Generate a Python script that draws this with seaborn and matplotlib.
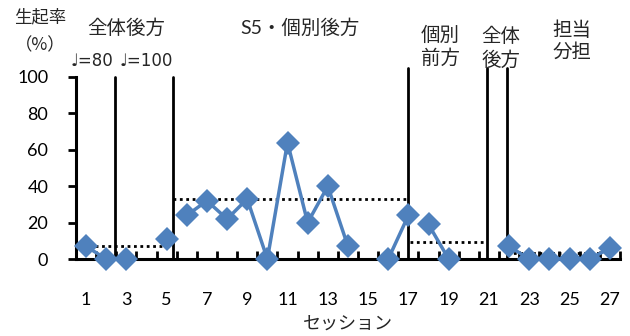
import numpy as np
import pandas as pd
import matplotlib
matplotlib.use("Agg")
import matplotlib.pyplot as plt
import seaborn as sns

sessions = list(range(1, 28))
rate = [7, 0, 0, np.nan, 11, 24, 32, 22, 33, 0, 64, 20, 40, 7, np.nan,
        0, 24, 19, 0, np.nan, np.nan, 7, 0, 0, 0, 0, 6]
segment = [1, 1, 2, 0, 3, 4, 4, 4, 4, 4, 4, 4, 4, 4, 0,
           5, 5, 6, 6, 0, 0, 7, 7, 7, 7, 7, 7]

phase_lines = [2.45, 5.3, 17.0, 20.9, 21.9]
phase_tops = [100, 100, 105, 105, 105]
mean_x0 = [0.5, 5.3, 17.1, 21.9]
mean_x1 = [5.1, 16.9, 20.8, 26.5]
mean_y = [7, 33, 9.5, 3.5]

phase_labels = ["全体後方", "S5・個別後方", "個別\n前方", "全体\n後方", "担当\n分担"]
phase_label_x = [3.0, 11.6, 18.6, 21.6, 25.1]
phase_label_y = [127, 127, 117, 116, 120]
tempo_labels = ["♩=80", "♩=100"]
tempo_x = [1.3, 4.0]
y_ticks = [0, 20, 40, 60, 80, 100]
x_tick_labels = [1, 3, 5, 7, 9, 11, 13, 15, 17, 19, 21, 23, 25, 27]

sns.set_theme(style="ticks", rc={
    "xtick.direction": "in", "ytick.direction": "in",
    "xtick.color": "black", "ytick.color": "black",
    "axes.edgecolor": "black", "axes.linewidth": 2.2,
})
plt.rcParams["font.family"] = ["Lato", "Noto Sans CJK JP", "DejaVu Sans"]

df = pd.DataFrame({"session": sessions, "rate": rate, "seg": segment})
df = df.dropna()

fig = plt.figure(figsize=(6.3, 3.36), dpi=100)
ax = fig.add_axes([0.1206, 0.229, 0.8634, 0.542])

sns.lineplot(data=df, x="session", y="rate", units="seg", estimator=None,
             color="#4F81BD", lw=2.5, marker="D", markersize=12.5,
             markeredgewidth=0, ax=ax, legend=False, zorder=5)
for ln in ax.get_lines():
    ln.set_clip_on(False)

for x, top in zip(phase_lines, phase_tops):
    ax.plot([x, x], [0, top], color="black", lw=2, clip_on=False, zorder=3)
for x0, x1, y in zip(mean_x0, mean_x1, mean_y):
    ax.plot([x0, x1], [y, y], color="black", lw=2, linestyle=(0, (1, 1.3)),
            zorder=1)

ax.set_xlim(0.5, 27.5)
ax.set_ylim(0, 100)
ax.set_yticks(y_ticks)
ax.set_xticks(x_tick_labels)
ax.set_xticklabels([str(v) for v in x_tick_labels])
ax.set_xlabel("セッション", fontsize=13, labelpad=6)
ax.set_ylabel("")
sns.despine(ax=ax)
ax.tick_params(axis="x", which="major", length=0, pad=24, labelsize=13)
ax.tick_params(axis="y", which="major", length=0, pad=20, labelsize=13)

# tick marks (inward), placed via the axes' own blended transforms
boundaries = [v + 0.5 for v in range(1, 28)]
ax.plot(boundaries, [0] * len(boundaries), linestyle="none", marker=2,
        markersize=6, markeredgewidth=2, color="black",
        transform=ax.get_xaxis_transform(), clip_on=False, zorder=4)
ax.plot([0] * len(y_ticks), y_ticks, linestyle="none", marker=0,
        markersize=6, markeredgewidth=2, color="black",
        transform=ax.get_yaxis_transform(), clip_on=False, zorder=4)

for lab, x, y in zip(phase_labels, phase_label_x, phase_label_y):
    ax.text(x, y, lab, ha="center", va="center", fontsize=14,
            linespacing=1.3, clip_on=False)
for lab, x in zip(tempo_labels, tempo_x):
    ax.text(x, 109, lab, ha="center", va="center", fontsize=12, clip_on=False,
            family=["DejaVu Sans"])

fig.text(40 / 630, 1 - 17 / 336, "生起率", ha="center", va="center",
         fontsize=12.5, family=["Noto Sans CJK JP"])
fig.text(40 / 630, 1 - 45 / 336, "（%）", ha="center", va="center",
         fontsize=12.5, family=["Noto Sans CJK JP"])

fig.savefig("out.png", dpi=100)
